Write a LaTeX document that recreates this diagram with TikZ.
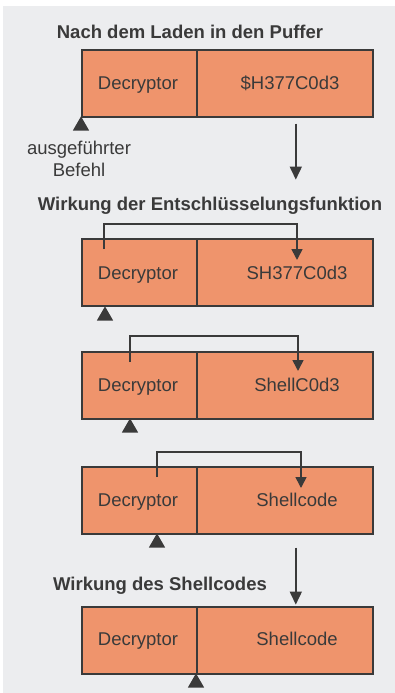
\documentclass[tikz,border=0pt]{standalone}
\usepackage{fontspec}
\setmainfont{Liberation Sans}
\usepackage{tikz,xcolor}
\usetikzlibrary{shapes.geometric}
\usetikzlibrary{arrows.meta}
\definecolor{panel}{HTML}{ECEDEF}
\definecolor{cell area}{HTML}{EF946C}
\definecolor{cell edge}{HTML}{3A3A3A}
\tikzstyle{ptr} = [regular polygon, regular polygon sides=3, fill=cell edge, inner sep=0pt, minimum size=19pt, anchor=corner 1]
\tikzset{cell/.style={draw=cell edge, fill=cell area, line width=1.6pt, minimum height=67pt, inner sep=0pt, anchor=north west},
    celltext/.style={text=cell edge, anchor=base, font=\fontsize{18.5}{22}\selectfont},
    heading/.style={text=cell edge, anchor=base, font=\fontsize{18.5}{22}\selectfont\bfseries},
    flow/.style={draw=cell edge, line width=1.6pt, -{Triangle[width=12pt,length=13pt]}},
    loopline/.style={draw=cell edge, line width=1.6pt, -{Triangle[width=11pt,length=11pt]}}}

\begin{document}
\begin{tikzpicture}[x=1pt, y=-1pt]
    % Definition of the frame
    \useasboundingbox (0,0) rectangle (395,693);
    \fill[panel] (3,6) rectangle (395,693);
    %
    % after loading into the buffer
    \node (headA) [heading] at (190,38) {Nach dem Laden in den Puffer};
    \node (decA) [cell, minimum width=115pt] at (81,49) {};
    \node (codeA) [cell, minimum width=176pt] at (196,49) {};
    \node (decAtxt) [celltext] at (138,89) {Decryptor};
    \node (codeAtxt) [celltext] at (290,89) {\$H377C0d3};
    \node (ptrA) [ptr] at (81,116) {};
    \node (execlabel) [celltext, anchor=center, align=center] at (79,159) {ausgeführter\\Befehl};
    \draw[flow] (codeA.south) ++(11,6) -- ++(0,56);
    %
    % decryption
    \node (headB) [heading] at (210,210) {Wirkung der Entschlüsselungsfunktion};
    \node (decB) [cell, minimum width=115pt] at (81,238) {};
    \node (codeB) [cell, minimum width=176pt] at (196,238) {};
    \node (decBtxt) [celltext] at (138,279) {Decryptor};
    \node (codeBtxt) [celltext] at (297,279) {SH377C0d3};
    \node (ptrB) [ptr] at (105,306) {};
    \coordinate (srcB) at (104,249);
    \coordinate (dstB) at (297,260);
    \draw[loopline] (srcB) -- ++(0,-25) -| (dstB);
    %
    \node (decC) [cell, minimum width=115pt] at (81,351) {};
    \node (codeC) [cell, minimum width=176pt] at (196,351) {};
    \node (decCtxt) [celltext] at (138,391) {Decryptor};
    \node (codeCtxt) [celltext] at (297,391) {ShellC0d3};
    \node (ptrC) [ptr] at (130,418) {};
    \coordinate (srcC) at (130,362);
    \coordinate (dstC) at (298,371);
    \draw[loopline] (srcC) -- ++(0,-26) -| (dstC);
    %
    \node (decD) [cell, minimum width=115pt] at (81,466) {};
    \node (codeD) [cell, minimum width=176pt] at (196,466) {};
    \node (decDtxt) [celltext] at (138,506) {Decryptor};
    \node (codeDtxt) [celltext] at (297,506) {Shellcode};
    \node (ptrD) [ptr] at (157,533) {};
    \coordinate (srcD) at (157,477);
    \coordinate (dstD) at (301,488);
    \draw[loopline] (srcD) -- ++(0,-25) -| (dstD);
    \draw[flow] (codeD.south) ++(11,13) -- ++(0,57);
    %
    % shellcode runs
    \node (headC) [heading] at (160,590) {Wirkung des Shellcodes};
    \node (decE) [cell, minimum width=115pt] at (81,606) {};
    \node (codeE) [cell, minimum width=176pt] at (196,606) {};
    \node (decEtxt) [celltext] at (138,645) {Decryptor};
    \node (codeEtxt) [celltext] at (297,645) {Shellcode};
    \node (ptrE) [ptr] at (196,673) {};
\end{tikzpicture}
\end{document}
